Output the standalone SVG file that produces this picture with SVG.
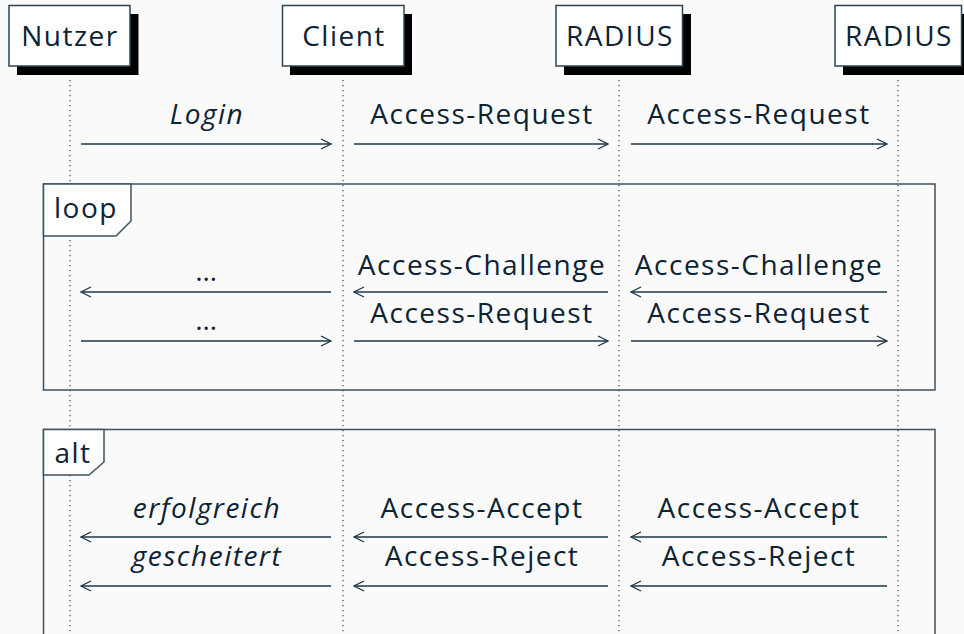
<svg xmlns="http://www.w3.org/2000/svg" width="964" height="634" viewBox="0 0 964 634">
  <defs>
    <style>
      .bg { fill: #fafafa; }
      .lbl { font-family: "Open Sans", "Noto Sans", sans-serif; font-size: 28px; letter-spacing: 1.5px; fill: #0c2333; text-anchor: middle; }
      .it { font-style: italic; }
      .box { fill: #ffffff; stroke: #2e4454; stroke-width: 1.5; }
      .shadow { fill: #000000; }
      .life { stroke: #3a4e5e; stroke-width: 1.2; stroke-dasharray: 1.2 3.8; fill: none; }
      .msg { stroke: #1e3646; stroke-width: 1.3; fill: none; }
      .frame { fill: none; stroke: #3f5262; stroke-width: 1.5; }
      .tag { fill: #ffffff; stroke: #3f5262; stroke-width: 1.5; }
      .head { fill: none; stroke: #1e3646; stroke-width: 1.3; }
    </style>
    <marker id="arr" viewBox="0 0 12 12" refX="11" refY="6" markerWidth="12" markerHeight="12" markerUnits="userSpaceOnUse" orient="auto-start-reverse">
      <path class="head" d="M1,1 L11,6 L1,11"/>
    </marker>
  </defs>

  <rect class="bg" x="0" y="0" width="964" height="634"/>

  <!-- lifelines -->
  <g id="lifelines">
    <line class="life" x1="70" y1="80" x2="70" y2="634"/>
    <line class="life" x1="343" y1="80" x2="343" y2="634"/>
    <line class="life" x1="619" y1="80" x2="619" y2="634"/>
    <line class="life" x1="898" y1="80" x2="898" y2="634"/>
  </g>

  <!-- combined fragments -->
  <g id="frame-loop">
    <rect class="frame" x="43.5" y="184" width="891.5" height="206"/>
    <path class="tag" d="M43.5,184 H131 V221 L116,236 H43.5 Z"/>
    <text class="lbl" x="86" y="218">loop</text>
  </g>
  <g id="frame-alt">
    <path class="frame" d="M43.5,640 V429.5 H935 V640"/>
    <path class="tag" d="M43.5,429.5 H104 V462 L89,475 H43.5 Z"/>
    <text class="lbl" x="73" y="463">alt</text>
  </g>

  <!-- participants -->
  <g id="p-nutzer">
    <rect class="shadow" x="17" y="14" width="121.5" height="61"/>
    <rect class="box" x="9" y="5.5" width="121" height="60.5"/>
    <text class="lbl" x="70" y="46">Nutzer</text>
  </g>
  <g id="p-client">
    <rect class="shadow" x="290" y="14" width="122" height="61"/>
    <rect class="box" x="282.5" y="5.5" width="121.5" height="60.5"/>
    <text class="lbl" x="344" y="46">Client</text>
  </g>
  <g id="p-radius1">
    <rect class="shadow" x="564" y="14" width="127" height="61"/>
    <rect class="box" x="556" y="5.5" width="126.5" height="60.5"/>
    <text class="lbl" x="620" y="46">RADIUS</text>
  </g>
  <g id="p-radius2">
    <rect class="shadow" x="843" y="14" width="127" height="61"/>
    <rect class="box" x="835" y="5.5" width="126.5" height="60.5"/>
    <text class="lbl" x="899" y="46">RADIUS</text>
  </g>

  <!-- messages -->
  <g id="connectors">
    <line class="msg" x1="81" y1="144" x2="331" y2="144" marker-end="url(#arr)"/>
    <line class="msg" x1="354" y1="144" x2="608" y2="144" marker-end="url(#arr)"/>
    <line class="msg" x1="631" y1="144" x2="887" y2="144" marker-end="url(#arr)"/>

    <line class="msg" x1="331" y1="292" x2="81" y2="292" marker-end="url(#arr)"/>
    <line class="msg" x1="608" y1="292" x2="354" y2="292" marker-end="url(#arr)"/>
    <line class="msg" x1="887" y1="292" x2="631" y2="292" marker-end="url(#arr)"/>

    <line class="msg" x1="81" y1="341" x2="331" y2="341" marker-end="url(#arr)"/>
    <line class="msg" x1="354" y1="341" x2="608" y2="341" marker-end="url(#arr)"/>
    <line class="msg" x1="631" y1="341" x2="887" y2="341" marker-end="url(#arr)"/>

    <line class="msg" x1="331" y1="537" x2="81" y2="537" marker-end="url(#arr)"/>
    <line class="msg" x1="608" y1="537" x2="354" y2="537" marker-end="url(#arr)"/>
    <line class="msg" x1="887" y1="537" x2="631" y2="537" marker-end="url(#arr)"/>

    <line class="msg" x1="331" y1="586" x2="81" y2="586" marker-end="url(#arr)"/>
    <line class="msg" x1="608" y1="586" x2="354" y2="586" marker-end="url(#arr)"/>
    <line class="msg" x1="887" y1="586" x2="631" y2="586" marker-end="url(#arr)"/>
  </g>

  <!-- message labels -->
  <g id="labels">
    <text class="lbl it" x="207" y="124">Login</text>
    <text class="lbl" x="482" y="124">Access-Request</text>
    <text class="lbl" x="759" y="124">Access-Request</text>

    <text class="lbl" x="207" y="281">…</text>
    <text class="lbl" x="482" y="275">Access-Challenge</text>
    <text class="lbl" x="759" y="275">Access-Challenge</text>

    <text class="lbl" x="207" y="330">…</text>
    <text class="lbl" x="482" y="323">Access-Request</text>
    <text class="lbl" x="759" y="323">Access-Request</text>

    <text class="lbl it" x="207" y="518">erfolgreich</text>
    <text class="lbl" x="482" y="518">Access-Accept</text>
    <text class="lbl" x="759" y="518">Access-Accept</text>

    <text class="lbl it" x="207" y="566">gescheitert</text>
    <text class="lbl" x="482" y="566">Access-Reject</text>
    <text class="lbl" x="759" y="566">Access-Reject</text>
  </g>
</svg>
